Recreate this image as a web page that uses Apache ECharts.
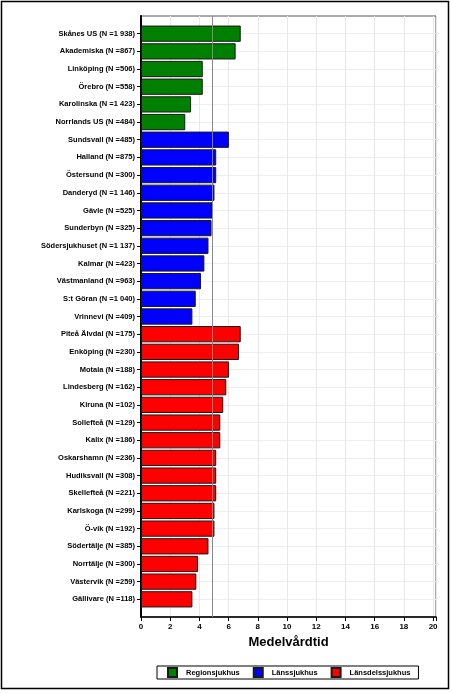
<!DOCTYPE html>
<html>
<head>
<meta charset="utf-8">
<script src="https://cdn.jsdelivr.net/npm/echarts@6/dist/echarts.min.js"></script>
<style>
  html, body { margin: 0; padding: 0; background: #fff; }
  #chart { width: 452px; height: 693px; }
</style>
</head>
<body>
<div id="chart"></div>
<script>
// Regionsjukhus
const regionNames = ['Skånes US (N =1 938)', 'Akademiska (N =867)', 'Linköping (N =506)', 'Örebro (N =558)', 'Karolinska (N =1 423)', 'Norrlands US (N =484)'];
const regionValues = [6.83, 6.48, 4.23, 4.23, 3.43, 3.03];
// Länssjukhus
const lansNames = ['Sundsvall (N =485)', 'Halland (N =875)', 'Östersund (N =300)', 'Danderyd (N =1 146)', 'Gävle (N =525)', 'Sunderbyn (N =325)', 'Södersjukhuset (N =1 137)', 'Kalmar (N =423)', 'Västmanland (N =963)', 'S:t Göran (N =1 040)', 'Vrinnevi (N =409)'];
const lansValues = [6.02, 5.15, 5.15, 5.03, 4.9, 4.83, 4.62, 4.34, 4.11, 3.75, 3.52];
// Länsdelssjukhus
const delsNames = ['Piteå Älvdal (N =175)', 'Enköping (N =230)', 'Motala (N =188)', 'Lindesberg (N =162)', 'Kiruna (N =102)', 'Sollefteå (N =129)', 'Kalix (N =186)', 'Oskarshamn (N =236)', 'Hudiksvall (N =308)', 'Skellefteå (N =221)', 'Karlskoga (N =299)', 'Ö-vik (N =192)', 'Södertälje (N =385)', 'Norrtälje (N =300)', 'Västervik (N =259)', 'Gällivare (N =118)'];
const delsValues = [6.83, 6.71, 6.02, 5.84, 5.63, 5.43, 5.43, 5.15, 5.15, 5.15, 5.03, 5.03, 4.62, 3.91, 3.79, 3.52];

const groupNames = ['Regionsjukhus', 'Länssjukhus', 'Länsdelssjukhus'];
const groupColors = ['#008000', '#0000ff', '#ff0000'];
const refValue = 4.9; // riksgenomsnitt
const xTicks = [0, 2, 4, 6, 8, 10, 12, 14, 16, 18, 20];

// tom kategori i varje ände ger halvt band luft upp och ner
const categories = [''].concat(regionNames, lansNames, delsNames, ['']);

function columnFor(values, offset) {
  return categories.map((c, i) => {
    const k = i - 1 - offset;
    return (k >= 0 && k < values.length) ? values[k] : '-';
  });
}

const seriesData = [
  columnFor(regionValues, 0),
  columnFor(lansValues, regionNames.length),
  columnFor(delsValues, regionNames.length + lansNames.length)
];

const font = 'Liberation Sans, Arial, sans-serif';
const notPad = (idx, val) => val !== '';

const chart = echarts.init(document.getElementById('chart'), null, { renderer: 'canvas' });

chart.setOption({
  animation: false,
  textStyle: { fontFamily: font },
  grid: {
    left: 141, top: 16, right: 16, bottom: 76,
    show: true, borderColor: '#555', borderWidth: 1
  },
  legend: {
    data: groupNames,
    left: 157, top: 666,
    orient: 'horizontal',
    padding: [1, 8, 1, 10],
    itemGap: 13,
    itemWidth: 9, itemHeight: 9,
    borderColor: '#000', borderWidth: 1,
    icon: 'rect',
    textStyle: { fontSize: 7.5, fontWeight: 'bold', color: '#000', fontFamily: font, padding: [0, 0, 0, 4] }
  },
  xAxis: {
    type: 'value',
    min: 0, max: 20.2, interval: 2,
    name: 'Medelvårdtid',
    nameLocation: 'middle',
    nameGap: 19,
    nameTextStyle: { fontSize: 13, fontWeight: 'bold', color: '#000', fontFamily: font },
    axisLine: { show: true, lineStyle: { color: '#000', width: 1.5 } },
    axisTick: { show: true, length: 4, lineStyle: { color: '#000' } },
    axisLabel: {
      fontSize: 8, fontWeight: 'bold', color: '#000', margin: 6,
      formatter: v => (xTicks.indexOf(v) >= 0 ? String(v) : '')
    },
    splitLine: { show: true, lineStyle: { color: '#e8e8e8', width: 1 } }
  },
  yAxis: {
    type: 'category',
    data: categories,
    inverse: true,
    boundaryGap: false,
    axisLine: { show: true, lineStyle: { color: '#000', width: 2 } },
    axisTick: { show: true, length: 4, interval: notPad, lineStyle: { color: '#000' } },
    axisLabel: { interval: 0, fontSize: 7.5, fontWeight: 'bold', color: '#000', margin: 6 },
    splitLine: { show: true, interval: notPad, lineStyle: { color: '#eeeeee', width: 1 } }
  },
  series: groupNames.map((name, i) => ({
    name: name,
    type: 'bar',
    stack: 'alla',
    data: seriesData[i],
    barCategoryGap: '8%',
    itemStyle: { color: groupColors[i], borderColor: '#1a1a1a', borderWidth: 1 },
    markLine: i === 0 ? {
      silent: true,
      symbol: ['none', 'none'],
      label: { show: false },
      lineStyle: { color: '#888', type: 'solid', width: 1 },
      data: [{ xAxis: refValue }]
    } : undefined
  })),
  graphic: [{
    type: 'rect',
    shape: { x: 1.5, y: 1.5, width: 447, height: 687 },
    style: { fill: 'none', stroke: '#000', lineWidth: 1.5 },
    silent: true
  }]
});
</script>
</body>
</html>
